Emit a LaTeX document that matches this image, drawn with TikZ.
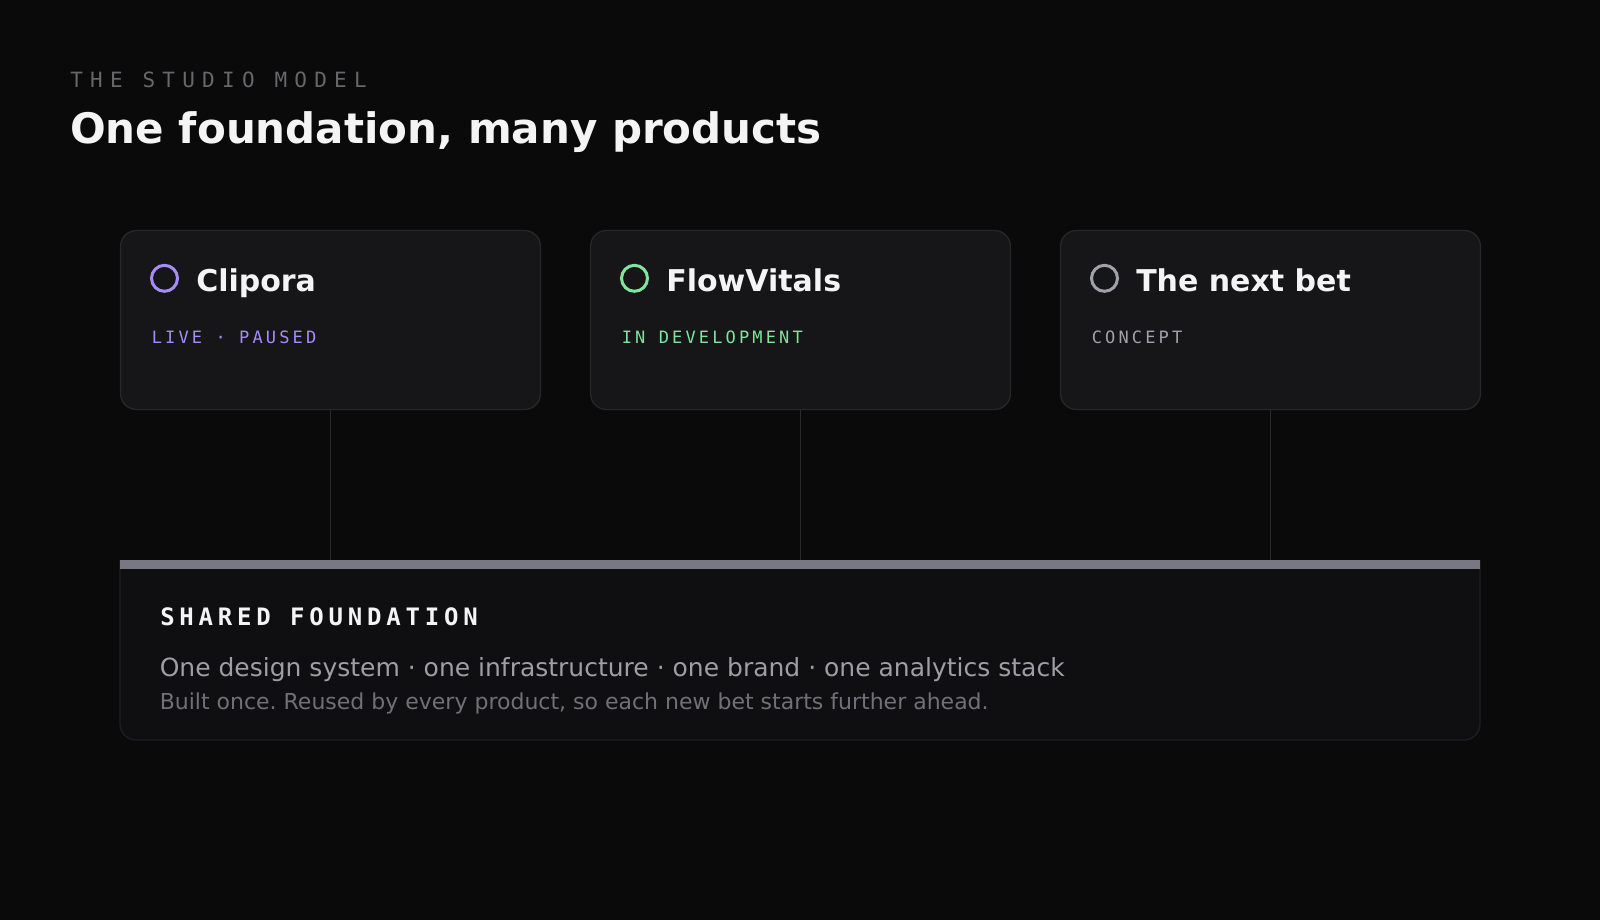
\documentclass[tikz,border=0pt]{standalone}
\usepackage{fontspec}
\setmainfont{DejaVu Sans}
\newfontfamily\kickerfont[LetterSpace=34.5]{DejaVu Sans Mono}
\newfontfamily\statusfont[LetterSpace=18.5]{DejaVu Sans Mono}
\newfontfamily\shfont[LetterSpace=20]{DejaVu Sans Mono}
\frenchspacing
\definecolor{bg}{HTML}{0A0A0B}
\definecolor{cardfill}{HTML}{161618}
\definecolor{cardline}{HTML}{27272A}
\definecolor{purp}{HTML}{A78BFA}
\definecolor{grn}{HTML}{80E49A}
\definecolor{gry}{HTML}{A1A1AA}
\definecolor{kick}{HTML}{67676C}
\definecolor{head}{HTML}{F4F4F5}
\definecolor{lineA}{HTML}{9E9EA5}
\definecolor{lineB}{HTML}{707077}
\definecolor{barc}{HTML}{787882}
\definecolor{conn}{HTML}{2A2A2E}
\definecolor{fdnfill}{HTML}{0F0F11}
\definecolor{fdnline}{HTML}{1F1F22}
\tikzset{
  card/.style={draw=cardline, fill=cardfill, line width=1pt, rounded corners=12pt,
    minimum width=420*0.75pt, minimum height=179*0.75pt, inner sep=0pt},
  dot/.style={circle, draw=#1, line width=2.25pt, minimum size=26*0.75pt, inner sep=0pt},
  ttl/.style={anchor=base west, inner sep=0pt, text=head,
    font=\fontsize{22.5pt}{26pt}\selectfont\bfseries},
  stat/.style={anchor=base west, inner sep=0pt, text=#1,
    font=\statusfont\fontsize{12.75pt}{15pt}\selectfont},
  connector/.style={draw=conn, line width=1.1pt},
  txt/.style={anchor=base west, inner sep=0pt}
}
\begin{document}
\begin{tikzpicture}[x=0.75pt, y=-0.75pt]
\fill[bg] (0,0) rectangle (1600,920);
\useasboundingbox (0,0) rectangle (1600,920);

% header
\node[txt, text=kick, font=\kickerfont\fontsize{15.75pt}{18pt}\selectfont] (kicker) at (70,87.5) {THE STUDIO MODEL};
\node[txt, text=head, font=\fontsize{31.5pt}{36pt}\selectfont\bfseries] (heading) at (70,143.5) {One foundation, many products};

% cards
\node[card] (c1) at (330.5,320) {};
\node[card] (c2) at (800.5,320) {};
\node[card] (c3) at (1270.5,320) {};

\node[dot=purp] (d1) at (164.5,278.3) {};
\node[dot=grn]  (d2) at (634.5,278.3) {};
\node[dot=gry]  (d3) at (1104.5,278.3) {};

\node[ttl] (t1) at (196,291.7) {Clipora};
\node[ttl] (t2) at (666,291.7) {FlowVitals};
\node[ttl] (t3) at (1136,291.7) {The next bet};

\node[stat=purp] (s1) at (151.5,343.3) {LIVE · PAUSED};
\node[stat=grn]  (s2) at (621.5,343.3) {IN DEVELOPMENT};
\node[stat=gry]  (s3) at (1091.5,343.3) {CONCEPT};

% foundation box
\begin{scope}
  \clip (110,560) rectangle (1490,745);
  \draw[draw=fdnline, fill=fdnfill, line width=1pt, rounded corners=12pt] (120,530) rectangle (1480,740);
\end{scope}
\node[fill=barc, minimum width=1360*0.75pt, minimum height=9*0.75pt, inner sep=0pt] (bar) at (800,564.5) {};

% connectors
\draw[connector] (c1.south) -- (c1.south |- bar.north);
\draw[connector] (c2.south) -- (c2.south |- bar.north);
\draw[connector] (c3.south) -- (c3.south |- bar.north);

\node[txt, text=head, font=\shfont\bfseries\fontsize{18pt}{21pt}\selectfont] (sh) at (160,625) {SHARED FOUNDATION};
\node[txt, text=lineA, font=\fontsize{18.75pt}{22pt}\selectfont] (l1) at (159.5,676) {One design system · one infrastructure · one brand · one analytics stack};
\node[txt, text=lineB, font=\fontsize{16.5pt}{19pt}\selectfont] (l2) at (159.5,709) {Built once. Reused by every product, so each new bet starts further ahead.};
\end{tikzpicture}
\end{document}
